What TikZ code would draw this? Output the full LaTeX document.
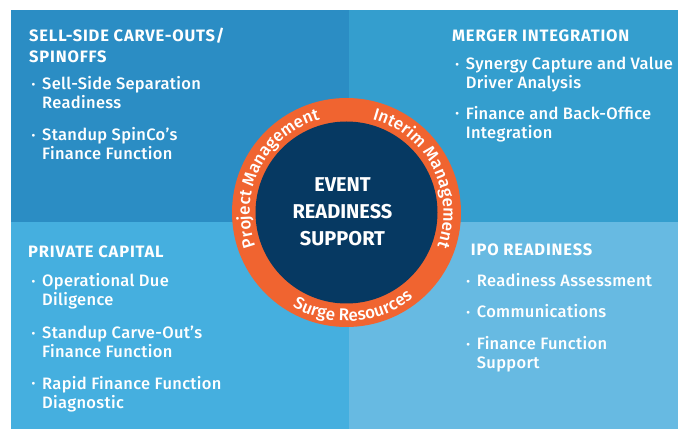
\documentclass[tikz,border=0pt]{standalone}
\usepackage{fontspec}
\setmainfont{Fira Sans}
\newfontfamily\medfont{Fira Sans Medium}[LetterSpace=2]
\newfontfamily\ringmed{Fira Sans Medium}
\newfontfamily\headfont{Fira Sans}[LetterSpace=5]
\usetikzlibrary{decorations.text}

\definecolor{paneltl}{HTML}{2B8DC4}
\definecolor{paneltr}{HTML}{349ECE}
\definecolor{panelbl}{HTML}{45AFDF}
\definecolor{panelbr}{HTML}{67BAE2}
\definecolor{ringorange}{HTML}{F06430}
\definecolor{corenavy}{HTML}{063962}

% bullet mark and the matching indent for continuation lines
\newcommand\dotmark{\makebox[10.5pt][l]{\raisebox{1.6pt}{\fontsize{11}{11}\selectfont\textbullet}}}
\newcommand\dotpad{\hspace*{10.5pt}}
\newcommand\ringfont{\ringmed\fontsize{17}{17}\selectfont}

\begin{document}
\begin{tikzpicture}[x=1pt,y=1pt,
  heading/.style={anchor=base west, inner sep=0pt, align=left, text=white,
    font=\headfont\fontsize{16.5}{21.3}\selectfont\bfseries},
  item/.style={anchor=base west, inner sep=0pt, align=left, text=white,
    font=\medfont\fontsize{16.5}{19}\selectfont},
  core/.style={anchor=base, inner sep=0pt, align=center, text=white,
    font=\fontsize{20}{27.3}\selectfont\bfseries},
  ringtext/.style={decorate, decoration={text along path, text align=center,
    text color=white, text={|\ringfont|#1}}}]
\useasboundingbox (0,0) rectangle (678,429);
\fill[white] (0,0) rectangle (678,429);

% four quadrants
\fill[paneltl] (11,207) rectangle (349,419);
\fill[paneltr] (349,207) rectangle (678,419);
\fill[panelbl] (11,0) rectangle (349,207);
\fill[panelbr] (349,0) rectangle (678,207);

% central ring
\coordinate (hub) at (346.5,216.5);
\fill[ringorange] (hub) circle[radius=114.5];
\fill[corenavy] (hub) circle[radius=91];

% multi-line nodes sit on the baseline of their last line
\node[core] (hubtext) at (342.5,183) {EVENT\\READINESS\\SUPPORT};

\path[ringtext={Project Management}]
  ([shift={(213:96.9)}]hub) arc[start angle=213, end angle=93, radius=96.9];
\path[ringtext={Interim Management}]
  ([shift={(87:96.9)}]hub) arc[start angle=87, end angle=-33, radius=96.9];
\path[ringtext={Surge Resources}]
  ([shift={(214:108.6)}]hub) arc[start angle=214, end angle=334, radius=108.6];

% top left
\node[heading] (sellhead) at (29,366) {SELL-SIDE CARVE-OUTS/\\SPINOFFS};
\node[item] (sell1) at (31.5,320) {\dotmark Sell-Side Separation\\\dotpad Readiness};
\node[item] (sell2) at (31.5,269) {\dotmark Standup SpinCo’s\\\dotpad Finance Function};

% top right
\node[heading] (mergehead) at (452,387.3) {MERGER INTEGRATION};
\node[item] (merge1) at (455.2,340) {\dotmark Synergy Capture and Value\\\dotpad Driver Analysis};
\node[item] (merge2) at (455.2,290.5) {\dotmark Finance and Back-Office\\\dotpad Integration};

% bottom left
\node[heading] (privhead) at (28,171.3) {PRIVATE CAPITAL};
\node[item] (priv1) at (31.5,123) {\dotmark Operational Due\\\dotpad Diligence};
\node[item] (priv2) at (31.5,71.3) {\dotmark Standup Carve-Out’s\\\dotpad Finance Function};
\node[item] (priv3) at (31.5,21) {\dotmark Rapid Finance Function\\\dotpad Diagnostic};

% bottom right
\node[heading] (ipohead) at (470.7,173.3) {IPO READINESS};
\node[item] (ipo1) at (466.2,142.3) {\dotmark Readiness Assessment};
\node[item] (ipo2) at (466.2,111.3) {\dotmark Communications};
\node[item] (ipo3) at (466.2,60.3) {\dotmark Finance Function\\\dotpad Support};
\end{tikzpicture}
\end{document}
